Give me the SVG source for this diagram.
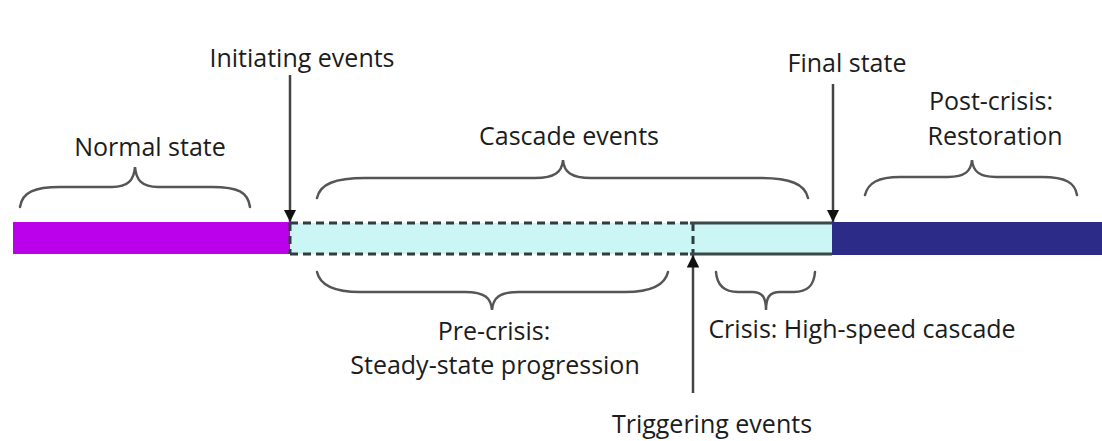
<svg xmlns="http://www.w3.org/2000/svg" width="1102" height="441" viewBox="0 0 1102 441">
  <style>
    .lbl { font-family: "Open Sans", "Noto Sans", "Liberation Sans", sans-serif; font-size: 25px; fill: #1c1c1c; text-anchor: middle; }
    .brace { fill: none; stroke: #555; stroke-width: 2.5; stroke-linecap: round; }
    .arrow { stroke: #444; stroke-width: 2.5; fill: none; }
    .edge { stroke: #3a4848; stroke-width: 3; fill: none; }
    .dash { stroke: #2f3d3d; stroke-width: 3; stroke-dasharray: 8 5; fill: none; }
  </style>
  <defs>
    <marker id="head" viewBox="0 0 10 10" refX="10" refY="5" markerWidth="5" markerHeight="5" orient="auto" markerUnits="strokeWidth">
      <path d="M0,0 L10,5 L0,10 Z" fill="#111"/>
    </marker>
  </defs>
  <rect width="1102" height="441" fill="#fff"/>

  <!-- timeline bar -->
  <g id="timeline">
    <rect id="normal-phase" x="13" y="222" width="277" height="32" fill="#bb00ec"/>
    <rect id="cascade-phase" x="290" y="223" width="542" height="31" fill="#ccf6f6"/>
    <rect id="post-phase" x="832" y="222" width="270" height="33" fill="#2c2c88"/>
    <!-- steady-state segment outline -->
    <path class="dash" d="M290,223 H690 M290,254 H690 M290,223 V254 M693,223 V254"/>
    <!-- high-speed segment outline -->
    <path class="edge" d="M690,223 H832 M690,254 H832"/>
  </g>

  <!-- braces -->
  <g id="braces">
    <path id="brace-normal" class="brace" d="M20,207 C22,192 35,187 60,187 L112,187 C128,187 134,180 135,167 C136,180 142,187 158,187 L212,187 C238,187 248,192 250,207"/>
    <path id="brace-cascade" class="brace" d="M317,198 C320,184 335,178 365,178 L535,178 C555,178 562,172 563,160 C564,172 571,178 591,178 L760,178 C790,178 805,184 808,198"/>
    <path id="brace-post" class="brace" d="M865,195 C868,183 878,177 900,177 L948,177 C965,177 971,171 972,160 C973,171 979,177 996,177 L1042,177 C1066,177 1075,183 1077,195"/>
    <path id="brace-pre" class="brace" d="M317,272 C320,285 333,292 360,292 L465,292 C485,292 491,298 492,310 C493,298 499,292 519,292 L625,292 C652,292 665,285 668,272"/>
    <path id="brace-crisis" class="brace" d="M716,272 C717,285 724,292 738,292 L752,292 C763,292 766,298 766,310 C766,298 769,292 780,292 L794,292 C808,292 814,285 815,272"/>
  </g>

  <!-- event arrows -->
  <g id="connectors">
    <line id="arrow-initiating" class="arrow" x1="290" y1="75" x2="290" y2="222" marker-end="url(#head)"/>
    <line id="arrow-final" class="arrow" x1="833" y1="84" x2="833" y2="222" marker-end="url(#head)"/>
    <line id="arrow-triggering" class="arrow" x1="693" y1="393" x2="693" y2="255" marker-end="url(#head)"/>
  </g>

  <!-- labels -->
  <g id="label-initiating"><text class="lbl" x="302" y="67">Initiating events</text></g>
  <g id="label-final"><text class="lbl" x="847" y="72">Final state</text></g>
  <g id="label-normal"><text class="lbl" x="150" y="156">Normal state</text></g>
  <g id="label-cascade"><text class="lbl" x="569" y="145">Cascade events</text></g>
  <g id="label-post"><text class="lbl" x="991" y="110">Post-crisis:</text><text class="lbl" x="995" y="145">Restoration</text></g>
  <g id="label-pre"><text class="lbl" x="494" y="340">Pre-crisis:</text><text class="lbl" x="495" y="374">Steady-state progression</text></g>
  <g id="label-crisis"><text class="lbl" x="862" y="338">Crisis: High-speed cascade</text></g>
  <g id="label-triggering"><text class="lbl" x="712" y="433">Triggering events</text></g>
</svg>
